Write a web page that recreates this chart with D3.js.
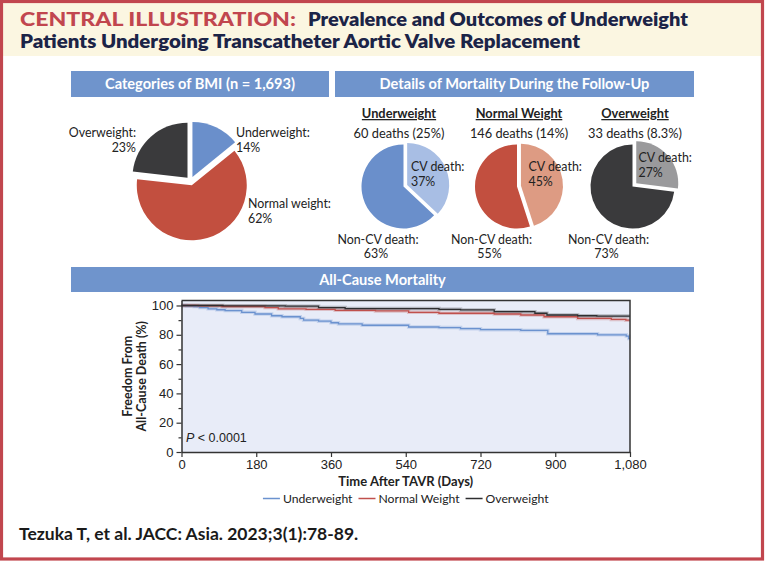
<!DOCTYPE html>
<html><head><meta charset="utf-8">
<script src="https://cdn.jsdelivr.net/npm/d3@7/dist/d3.min.js"></script>
<style>html,body{margin:0;padding:0;background:#fff}svg{display:block}</style>
</head><body><div id="c"></div>
<script>
// ---------- DATA ----------
const bmiCategories = ["Underweight", "Normal weight", "Overweight"];
const bmiPercent = [14, 62, 23];
const bmiN = "1,693";

const deathGroups = ["Underweight", "Normal Weight", "Overweight"];
const deathCounts = [60, 146, 33];
const deathRates = ["25%", "14%", "8.3%"];
const cvDeathPct = [37, 45, 27];
const nonCvDeathPct = [63, 55, 73];

// Kaplan-Meier steps: [day, freedom from all-cause death %]
const kmUnderweight = [[0,100],[12,99.7],[30,99.3],[44,98.6],[64,97.7],[85,97.1],[105,96.5],[145,95.3],[177,94.2],[217,93.0],[242,92.3],[286,91.2],[294,90.0],[330,89.3],[360,88.2],[378,87.4],[435,86.5],[547,85.3],[620,84.9],[672,84.2],[720,83.5],[817,83.0],[882,80.7],[1002,80.0],[1071,79.1],[1077,77.4],[1080,77.4]];
const kmNormal = [[0,100],[40,99.8],[97,99.3],[201,98.6],[233,97.7],[300,97.4],[370,96.7],[467,96.3],[547,95.3],[620,94.7],[753,94.2],[817,93.5],[873,92.3],[954,91.2],[1035,90.5],[1070,90.0],[1080,90.0]];
const kmOverweight = [[0,100],[100,99.8],[250,99.5],[330,98.6],[394,97.9],[620,97.4],[672,97.0],[753,95.8],[851,94.7],[880,93.5],[954,93.0],[1000,92.8],[1080,92.8]];
const kmNames = ["Underweight", "Normal Weight", "Overweight"];
const xTicks = [0, 180, 360, 540, 720, 900, 1080];
const yTicks = [0, 20, 40, 60, 80, 100];
const yMinorTicks = [10, 30, 50, 70, 90];
const pValue = "< 0.0001";

// ---------- STYLE ----------
const W = 765, H = 561;
const RED = "#c1464e", NAVY = "#1b2447", BAR = "#6f94cc";
const seriesColor = ["#6a8fcb", "#c24f3f", "#3a3a3c"];
const cvColor = ["#a8bee4", "#dd9b83", "#9a9a9c"];
const kmColor = ["#6b92cf", "#c0504d", "#2e2e30"];
const SANS = "Lato, 'Open Sans', sans-serif";
const AX = "'Liberation Sans', Arial, sans-serif";

const svg = d3.select("#c").append("svg").attr("width", W).attr("height", H);

// header band + border
svg.append("rect").attr("x", 2).attr("y", 2).attr("width", W - 5).attr("height", 54).attr("fill", "#fbf6e1");
svg.append("text").attr("x", 20).attr("y", 26).attr("font-family", SANS).attr("font-weight", 900)
  .attr("font-size", 18).attr("fill", RED).attr("textLength", 276).attr("lengthAdjust", "spacingAndGlyphs")
  .text("CENTRAL ILLUSTRATION:");
svg.append("text").attr("x", 308).attr("y", 26).attr("font-family", SANS).attr("font-weight", 800)
  .attr("font-size", 18).attr("fill", NAVY).attr("textLength", 380).attr("lengthAdjust", "spacingAndGlyphs")
  .text("Prevalence and Outcomes of Underweight");
svg.append("text").attr("x", 20).attr("y", 47.5).attr("font-family", SANS).attr("font-weight", 800)
  .attr("font-size", 18).attr("fill", NAVY).attr("textLength", 560).attr("lengthAdjust", "spacingAndGlyphs")
  .text("Patients Undergoing Transcatheter Aortic Valve Replacement");

// section bars
function bar(x0, x1, y0, h, label, fs) {
  svg.append("rect").attr("x", x0).attr("y", y0).attr("width", x1 - x0).attr("height", h).attr("fill", BAR);
  svg.append("text").attr("x", (x0 + x1) / 2).attr("y", y0 + h / 2 + 5).attr("text-anchor", "middle")
    .attr("font-family", SANS).attr("font-weight", 700).attr("font-size", fs).attr("fill", "#fff").text(label);
}
bar(71, 329, 71, 26, `Categories of BMI (n = ${bmiN})`, 14.6);
bar(335, 694, 71, 26, "Details of Mortality During the Follow-Up", 14.6);
bar(71, 694, 267, 25, "All-Cause Mortality", 14.6);

// ---------- BMI pie ----------
const pie = d3.pie().sort(null).value(d => d.v);
{
  const cx = 190.5, cy = 181, r = 55, ex = 4.5;
  const data = bmiCategories.map((c, i) => ({ c, v: bmiPercent[i], col: seriesColor[i] }));
  const arcs = pie(data);
  const arc = d3.arc().innerRadius(0).outerRadius(r);
  const g = svg.append("g").attr("transform", `translate(${cx},${cy})`);
  g.selectAll("path").data(arcs).join("path")
    .attr("d", arc).attr("fill", d => d.data.col)
    .attr("transform", d => { const m = (d.startAngle + d.endAngle) / 2; return `translate(${Math.sin(m) * ex},${-Math.cos(m) * ex})`; });
  const lab = [
    { lines: [bmiCategories[0] + ":", bmiPercent[0] + "%"], x: 236, y: 137, a: "start" },
    { lines: [bmiCategories[1] + ":", bmiPercent[1] + "%"], x: 248, y: 208, a: "start" },
    { lines: [bmiCategories[2] + ":", bmiPercent[2] + "%"], x: 136, y: 137, a: "end" }
  ];
  lab.forEach(l => {
    const t = svg.append("text").attr("font-family", SANS).attr("font-size", 12.4).attr("fill", "#222").attr("text-anchor", l.a);
    l.lines.forEach((s, k) => t.append("tspan").attr("x", l.x).attr("y", l.y + k * 15).text(s));
  });
}

// ---------- Mortality pies ----------
{
  const cxs = [403.5, 517, 632.5], cy = 186.5, r = 42;
  const titleX = [399, 519, 635];
  const cvLabX = [411, 528.5, 638.5], cvLabY = [171, 171, 162];
  const ncLabX = [378, 491.5, 608.5];
  const exp = [4, 4, 5];
  const arc = d3.arc().innerRadius(0).outerRadius(r);
  deathGroups.forEach((gname, i) => {
    svg.append("text").attr("x", titleX[i]).attr("y", 118).attr("text-anchor", "middle")
      .attr("font-family", SANS).attr("font-weight", 700).attr("font-size", 12.8).attr("fill", "#222")
      .attr("text-decoration", "underline").text(gname);
    svg.append("text").attr("x", titleX[i]).attr("y", 138).attr("text-anchor", "middle")
      .attr("font-family", SANS).attr("font-size", 12.8).attr("fill", "#222")
      .text(`${deathCounts[i]} deaths (${deathRates[i]})`);
    const data = [{ k: "CV", v: cvDeathPct[i], col: cvColor[i] }, { k: "Non-CV", v: nonCvDeathPct[i], col: seriesColor[i] }];
    const arcs = pie(data);
    const g = svg.append("g").attr("transform", `translate(${cxs[i]},${cy})`);
    g.selectAll("path").data(arcs).join("path")
      .attr("d", arc).attr("fill", d => d.data.col)
      .attr("transform", d => { if (d.data.k !== "CV") return null; const m = (d.startAngle + d.endAngle) / 2; return `translate(${Math.sin(m) * exp[i]},${-Math.cos(m) * exp[i]})`; });
    const cv = svg.append("text").attr("font-family", SANS).attr("font-size", 12.4).attr("fill", "#222");
    cv.append("tspan").attr("x", cvLabX[i]).attr("y", cvLabY[i]).text("CV death:");
    cv.append("tspan").attr("x", cvLabX[i]).attr("y", cvLabY[i] + 14.5).text(cvDeathPct[i] + "%");
    const nc = svg.append("text").attr("font-family", SANS).attr("font-size", 12.4).attr("fill", "#222").attr("text-anchor", "middle");
    nc.append("tspan").attr("x", ncLabX[i]).attr("y", 243.5).text("Non-CV death:");
    nc.append("tspan").attr("x", ncLabX[i] - 2).attr("y", 258).text(nonCvDeathPct[i] + "%");
  });
}

// ---------- KM plot ----------
{
  const x = d3.scaleLinear().domain([0, 1080]).range([181.5, 630]);
  const y = d3.scaleLinear().domain([0, 103.4]).range([452, 300.5]);
  svg.append("rect").attr("x", x(0)).attr("y", y(103.4)).attr("width", x(1080) - x(0)).attr("height", y(0) - y(103.4)).attr("fill", "#e8ecf8");
  const line = d3.line().x(d => x(d[0])).y(d => y(d[1])).curve(d3.curveStepAfter);
  const series = [kmUnderweight, kmNormal, kmOverweight];
  series.forEach((s, i) => {
    svg.append("path").attr("d", line(s)).attr("fill", "none").attr("stroke", kmColor[i]).attr("stroke-opacity", 0.28).attr("stroke-width", 3.5);
  });
  series.forEach((s, i) => {
    svg.append("path").attr("d", line(s)).attr("fill", "none").attr("stroke", kmColor[i]).attr("stroke-width", 1.3);
  });
  // frame top & right
  svg.append("path").attr("d", `M${x(0)},${y(103.4)}H${x(1080)}V${y(0)}`).attr("fill", "none").attr("stroke", "#333").attr("stroke-width", 1.5);
  const ya = svg.append("g").attr("transform", `translate(${x(0)},0)`)
    .call(d3.axisLeft(y).tickValues(yTicks).tickSize(5).tickSizeOuter(0).tickPadding(3));
  const ym = svg.append("g").attr("transform", `translate(${x(0)},0)`)
    .call(d3.axisLeft(y).tickValues(yMinorTicks).tickSize(3).tickSizeOuter(0).tickFormat(""));
  ym.select(".domain").remove();
  const xa = svg.append("g").attr("transform", `translate(0,${y(0)})`)
    .call(d3.axisBottom(x).tickValues(xTicks).tickSize(5).tickSizeOuter(0).tickPadding(3).tickFormat(d3.format(",")));
  [ya, ym, xa].forEach(g => {
    g.selectAll(".domain").attr("stroke", "#333").attr("stroke-width", 1.5);
    g.selectAll(".tick line").attr("stroke", "#333").attr("stroke-width", 1.2);
    g.selectAll("text").attr("font-family", AX).attr("font-size", 13).attr("fill", "#222");
  });
  svg.append("text").attr("x", 186).attr("y", 442).attr("font-family", AX).attr("font-size", 12.5).attr("fill", "#222")
    .call(t => { t.append("tspan").attr("font-style", "italic").text("P"); t.append("tspan").text(" " + pValue); });
  const midX = (x(0) + x(1080)) / 2;
  svg.append("text").attr("x", midX).attr("y", 486).attr("text-anchor", "middle").attr("font-family", SANS)
    .attr("font-weight", 700).attr("font-size", 13).attr("fill", "#222").text("Time After TAVR (Days)");
  const yt = svg.append("text").attr("transform", `translate(0,${(y(0) + y(103.4)) / 2}) rotate(-90)`).attr("text-anchor", "middle")
    .attr("font-family", SANS).attr("font-weight", 700).attr("font-size", 12.5).attr("fill", "#222");
  yt.append("tspan").attr("x", 0).attr("y", 132).text("Freedom From");
  yt.append("tspan").attr("x", 0).attr("y", 146).text("All-Cause Death (%)");
  // legend
  const lg = svg.append("g");
  let cur = 0;
  kmNames.forEach((n, i) => {
    const g = lg.append("g").attr("transform", `translate(${cur},0)`);
    g.append("line").attr("x1", 0).attr("x2", 17).attr("y1", 0).attr("y2", 0).attr("stroke", kmColor[i]).attr("stroke-width", 1.5);
    const t = g.append("text").attr("x", 20).attr("y", 4.5).attr("font-family", SANS).attr("font-size", 12.2).attr("fill", "#222").text(n);
    cur += 20 + t.node().getComputedTextLength() + 6;
  });
  const total = cur - 6;
  lg.attr("transform", `translate(${midX - total / 2},498.5)`);
}

// footer
svg.append("text").attr("x", 19).attr("y", 540).attr("font-family", SANS).attr("font-weight", 700)
  .attr("font-size", 17.5).attr("fill", "#1a1a1a").text("Tezuka T, et al. JACC: Asia. 2023;3(1):78-89.");

// outer border
svg.append("rect").attr("x", 1.5).attr("y", 1.5).attr("width", W - 4).attr("height", H - 3.5)
  .attr("fill", "none").attr("stroke", RED).attr("stroke-width", 3.2);
</script></body></html>
